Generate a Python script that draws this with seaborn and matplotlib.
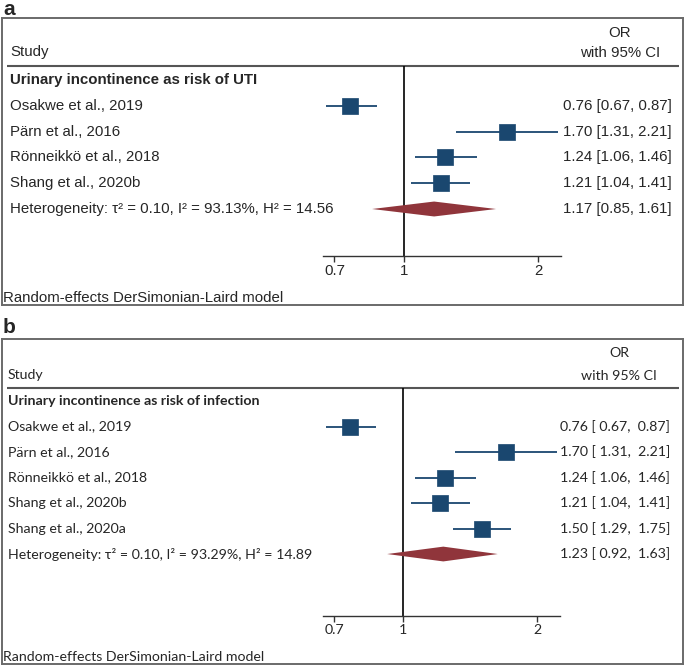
import matplotlib
matplotlib.use("Agg")
import matplotlib.pyplot as plt
import matplotlib.transforms as mtransforms
import seaborn as sns
import pandas as pd

# ---------------- data ----------------
studies_a = ["Osakwe et al., 2019", "Pärn et al., 2016", "Rönneikkö et al., 2018", "Shang et al., 2020b"]
or_a = [0.76, 1.70, 1.24, 1.21]
lo_a = [0.67, 1.31, 1.06, 1.04]
hi_a = [0.87, 2.21, 1.46, 1.41]
pooled_a = [1.17, 0.85, 1.61]
het_a = "Heterogeneity: τ² = 0.10, I² = 93.13%, H² = 14.56"
group_a = "Urinary incontinence as risk of UTI"

studies_b = ["Osakwe et al., 2019", "Pärn et al., 2016", "Rönneikkö et al., 2018",
             "Shang et al., 2020b", "Shang et al., 2020a"]
or_b = [0.76, 1.70, 1.24, 1.21, 1.50]
lo_b = [0.67, 1.31, 1.06, 1.04, 1.29]
hi_b = [0.87, 2.21, 1.46, 1.41, 1.75]
pooled_b = [1.23, 0.92, 1.63]
het_b = "Heterogeneity: τ² = 0.10, I² = 93.29%, H² = 14.89"
group_b = "Urinary incontinence as risk of infection"

tick_vals = [0.7, 1, 2]
tick_labels = ["0.7", "1", "2"]
model_note = "Random-effects DerSimonian-Laird model"

# ---------------- style ----------------
sns.set_theme(style="white")
W, H = 685, 666
NAVY = "#1a476f"
MAROON = "#90353b"
BOXC = "#6a6a6a"

fig = plt.figure(figsize=(W / 100, H / 100), dpi=100)
fig.patch.set_facecolor("white")


def add_px_axes(x0, y0, x1, y1):
    return fig.add_axes([x0 / W, 1 - y1 / H, (x1 - x0) / W, (y1 - y0) / H])


def panel(label, box, inner_box, ylim, studies, ors, los, his, pooled, het, group,
          fam, fs, fmt, px):
    bx0, by0, bx1, by1 = box
    outer = add_px_axes(bx0, by0, bx1, by1)
    outer.set_xlim(bx0, bx1)
    outer.set_ylim(by1, by0)
    outer.set_xticks([])
    outer.set_yticks([])
    for s in outer.spines.values():
        s.set_color(BOXC)
        s.set_linewidth(1.4)
    outer.set_zorder(0)

    inner = add_px_axes(*inner_box)
    inner.set_zorder(1)
    inner.patch.set_alpha(0)
    inner.set_xscale("log")
    inner.set_xlim(0.66, 2.25)
    inner.set_ylim(*ylim)
    for k in ["top", "left", "right"]:
        inner.spines[k].set_visible(False)
    inner.spines["bottom"].set_color("#333333")
    inner.spines["bottom"].set_linewidth(1.0)
    inner.set_xticks(tick_vals)
    inner.set_xticklabels(tick_labels)
    inner.xaxis.set_minor_locator(matplotlib.ticker.NullLocator())
    inner.tick_params(axis="x", direction="out", length=4, width=1, color="#333333",
                      labelsize=fs, pad=2, bottom=True)
    for t in inner.get_xticklabels():
        t.set_fontfamily(fam)
    inner.set_yticks([])

    n = len(studies)
    rows = list(range(1, n + 1))
    df = pd.DataFrame({"study": studies, "OR": ors, "lo": los, "hi": his, "row": rows})

    inner.axvline(1, color="black", lw=1.2, zorder=1)
    inner.hlines(df["row"], df["lo"], df["hi"], color=NAVY, lw=1.3, zorder=2)
    sns.scatterplot(data=df, x="OR", y="row", marker="s", s=122, color=NAVY,
                    edgecolor=NAVY, linewidth=0.5, ax=inner, zorder=3, legend=False)
    inner.set_xlabel("")
    inner.set_ylabel("")
    inner.set_ylim(*ylim)

    hr = n + 1
    est, plo, phi = pooled
    dh = 0.29
    inner.fill([plo, est, phi, est], [hr, hr - dh, hr, hr + dh], color=MAROON, lw=0, zorder=3)

    # texts
    tr = mtransforms.blended_transform_factory(outer.transData, inner.transData)
    outer.text(px["left"], px["study"], "Study", fontsize=fs, family=fam, va="center", ha="left")
    outer.text(px["or_x"], px["or"], "OR", fontsize=fs, family=fam, va="center", ha="center")
    outer.text(px["or_x"], px["ci"], "with 95% CI", fontsize=fs, family=fam, va="center", ha="center")
    outer.plot([7, 679], [px["hline"], px["hline"]], color="#555555", lw=1.5, solid_capstyle="butt")
    outer.text(px["left"], 0, group, transform=tr, fontsize=fs, family=fam, fontweight="bold",
               va="center", ha="left")
    for r, s, o, l, h in zip(rows, studies, ors, los, his):
        outer.text(px["left"], r, s, transform=tr, fontsize=fs, family=fam, va="center", ha="left")
        outer.text(px["right"], r, fmt.format(o, l, h), transform=tr, fontsize=fs, family=fam,
                   va="center", ha="right")
    outer.text(px["left"], hr, het, transform=tr, fontsize=fs, family=fam, va="center", ha="left")
    outer.text(px["right"], hr, fmt.format(est, plo, phi), transform=tr, fontsize=fs, family=fam,
               va="center", ha="right")
    outer.text(3, px["note"], model_note, fontsize=fs, family=fam, va="center", ha="left")
    fig.text(3 / W, 1 - px["lab"] / H, label, fontsize=15, fontweight="bold",
             family="Liberation Sans", va="baseline", ha="left")
    return outer, inner


panel("a", (2, 18, 683, 305), (323, 66, 561, 256), (6.825, -0.553),
      studies_a, or_a, lo_a, hi_a, pooled_a, het_a, group_a,
      "Liberation Sans", 10.8, "{:.2f} [{:.2f}, {:.2f}]",
      dict(left=10, study=52, or_x=620, ci=53, hline=66,
           right=672, note=298, lab=15, **{"or": 33}))

panel("b", (2, 339, 683, 664), (323, 388, 560, 616), (8.43, -0.51),
      studies_b, or_b, lo_b, hi_b, pooled_b, het_b, group_b,
      "Lato", 10.2, "{:.2f} [ {:.2f},  {:.2f}]",
      dict(left=8, study=375, or_x=619, ci=376, hline=388,
           right=670, note=657, lab=333, **{"or": 353}))

fig.savefig("out.png", dpi=100)
